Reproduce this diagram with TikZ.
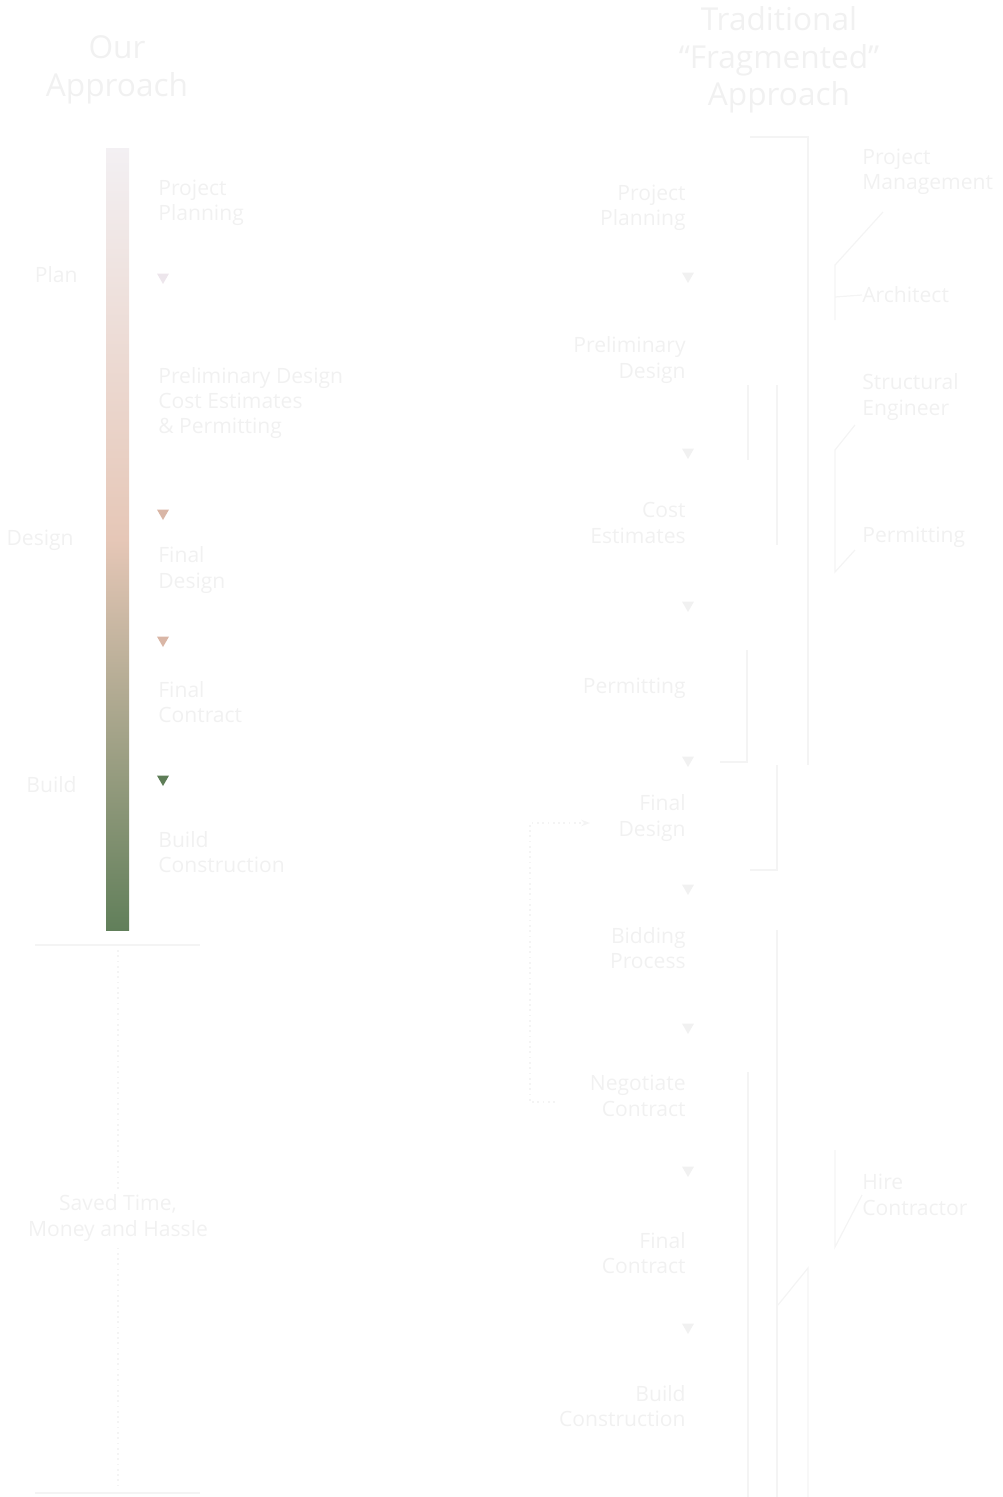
\documentclass[tikz,border=0pt]{standalone}
\usepackage{fontspec}
\setmainfont{Open Sans}
\usetikzlibrary{positioning,shapes.geometric,arrows.meta}

\definecolor{ghost}{HTML}{F1F1F1}
\definecolor{faintline}{HTML}{F4F4F4}
\definecolor{lavender}{HTML}{EDE6EC}
\definecolor{peach}{HTML}{D9B6A6}
\definecolor{sage}{HTML}{5E7D57}
\definecolor{bartop}{HTML}{F3F0F3}
\definecolor{barmid}{HTML}{E6C7B7}
\definecolor{barbot}{HTML}{617F5A}

\begin{document}
\begin{tikzpicture}[x=0.02cm, y=-0.02cm,
        title/.style={font=\fontsize{18}{21.5}\selectfont, text=ghost, align=center},
        stepl/.style={font=\fontsize{12}{14.5}\selectfont, text=ghost, align=left, anchor=west, inner sep=0pt},
        stepr/.style={font=\fontsize{12}{14.5}\selectfont, text=ghost, align=right, anchor=east, inner sep=0pt},
        note/.style={font=\fontsize{12}{14.5}\selectfont, text=ghost, align=left, anchor=west, inner sep=0pt},
        phase/.style={font=\fontsize{12}{14.5}\selectfont, text=ghost, anchor=east, inner sep=0pt},
        tri/.style={regular polygon, regular polygon sides=3, shape border rotate=180, minimum size=0.28cm, inner sep=0pt, draw=none},
        bracket/.style={draw=faintline, line width=0.7pt},
        rule/.style={draw=faintline, line width=1pt},
        trail/.style={draw=faintline, line width=1pt, dotted}
    ]
    \useasboundingbox (0,0) rectangle (1002,1497);

    % left column: our approach
    \node[title] (ourtitle) at (117,70) {Our\\Approach};
    \shade[top color=bartop, bottom color=barbot, middle color=barmid] (106,148) rectangle (129,930);

    \node[phase] (plan) at (78,275) {Plan};
    \node[phase] (design) at (74,540) {Design};
    \node[phase] (build) at (77,785) {Build};

    \node[stepl] (lplan) at (158,203) {Project\\Planning};
    \node[tri, fill=lavender] (lt1) at (163,277) {};
    \node[stepl] (lprelim) at (158,403) {Preliminary Design\\Cost Estimates\\\& Permitting};
    \node[tri, fill=peach] (lt2) at (163,513) {};
    \node[stepl] (lfinal) at (158,570) {Final\\Design};
    \node[tri, fill=peach] (lt3) at (163,640) {};
    \node[stepl] (lcontract) at (158,702) {Final\\Contract};
    \node[tri, fill=sage] (lt4) at (163,779) {};
    \node[stepl] (lbuild) at (158,852) {Build\\Construction};

    % savings trail
    \node[title, font=\fontsize{12}{14.5}\selectfont] (saved) at (118,1218) {Saved Time,\\Money and Hassle};
    \coordinate (topl) at (35,945);
    \coordinate (topr) at (200,945);
    \coordinate (topm) at (118,950);
    \coordinate (botl) at (35,1493);
    \coordinate (botr) at (200,1493);
    \coordinate (botm) at (118,1488);
    \draw[rule] (topl) -- (topr);
    \draw[rule] (botl) -- (botr);
    \draw[trail] (topm) -- (saved.north);
    \draw[trail] (saved.south) -- (botm);

    % right column: traditional approach
    \node[title] (tradtitle) at (779,60) {Traditional\\``Fragmented''\\Approach};

    \node[stepr] (rplan) at (686,208) {Project\\Planning};
    \node[tri, fill=ghost] (rt1) at (688,276) {};
    \node[stepr] (rprelim) at (686,360) {Preliminary\\Design};
    \node[tri, fill=ghost] (rt2) at (688,452) {};
    \node[stepr] (rcost) at (686,523) {Cost\\Estimates};
    \node[tri, fill=ghost] (rt3) at (688,605) {};
    \node[stepr] (rpermit) at (686,688) {Permitting};
    \node[tri, fill=ghost] (rt4) at (688,760) {};
    \node[stepr] (rfinal) at (686,818) {Final\\Design};
    \node[tri, fill=ghost] (rt5) at (688,888) {};
    \node[stepr] (rbid) at (686,948) {Bidding\\Process};
    \node[tri, fill=ghost] (rt6) at (688,1027) {};
    \node[stepr] (rnego) at (686,1096) {Negotiate\\Contract};
    \node[tri, fill=ghost] (rt7) at (688,1170) {};
    \node[stepr] (rcontract) at (686,1253) {Final\\Contract};
    \node[tri, fill=ghost] (rt8) at (688,1327) {};
    \node[stepr] (rbuild) at (686,1406) {Build\\Construction};

    % parties involved
    \node[note] (pm) at (862,172) {Project\\Management};
    \node[note] (arch) at (862,295) {Architect};
    \node[note] (eng) at (862,397) {Structural\\Engineer};
    \node[note] (perm) at (862,537) {Permitting};
    \node[note] (gc) at (862,1195) {Hire\\Contractor};

    % hand-off brackets
    \draw[bracket] (750,137) -- (808,137) -- (808,765);
    \draw[bracket] (883,212) -- (835,265) -- (835,320);
    \draw[bracket] (835,297) -- (arch.west);
    \draw[bracket] (855,425) -- (835,450) -- (835,572) -- (855,550);
    \draw[bracket] (748,385) -- (748,460);
    \draw[bracket] (777,385) -- (777,545);
    \draw[bracket] (747,650) -- (747,762) -- (720,762);
    \draw[bracket] (750,870) -- (777,870) -- (777,765);
    \draw[bracket] (777,930) -- (777,1497);
    \draw[bracket] (748,1072) -- (748,1497);
    \draw[bracket] (835,1150) -- (835,1247) -- (gc.west);
    \draw[bracket] (778,1305) -- (808,1268) -- (808,1497);
    \draw[trail, -{Stealth[length=5pt]}] (555,1102) -- (530,1102) -- (530,823) -- (590,823);
\end{tikzpicture}
\end{document}
